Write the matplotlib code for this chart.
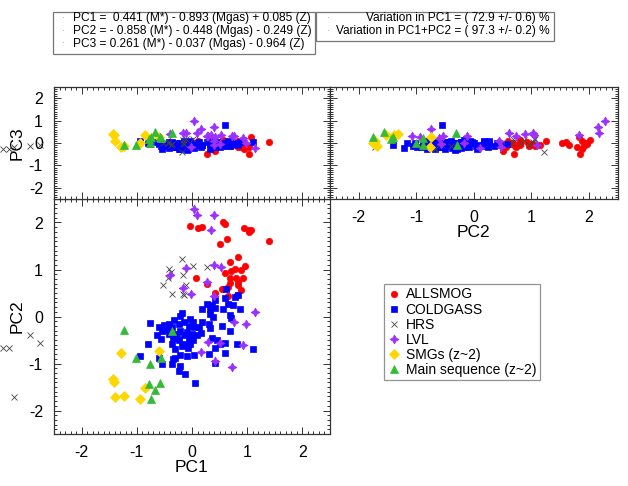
import matplotlib
matplotlib.use("Agg")
import matplotlib.pyplot as plt
from matplotlib.patches import Rectangle
from matplotlib.ticker import MultipleLocator
import numpy as np

plt.rcParams['font.family'] = ['Liberation Sans', 'DejaVu Sans']
plt.rcParams['axes.unicode_minus'] = False

# ---------------- data: (PC1, PC2, PC3) ----------------
allsmog = [
    (-0.04, 1.93, -0.01), (0.11, 1.88, 0.09), (0.19, 1.91, -0.12), (0.56, 2.02, 0.12),
    (0.59, 1.97, -0.06), (0.94, 1.88, -0.27), (1.03, 1.84, -0.49), (1.04, 1.80, -0.20),
    (1.07, 1.83, 0.28), (1.40, 1.61, 0.03), (0.63, 1.65, -0.10), (0.51, 1.54, 0.00),
    (0.84, 1.26, 0.09), (0.68, 1.15, -0.10), (0.78, 1.02, -0.05), (0.96, 1.07, -0.15),
    (0.88, 0.99, -0.06), (0.71, 0.96, -0.12), (0.59, 0.92, 0.05), (0.07, 0.81, -0.05),
    (0.92, 0.81, 0.13), (0.80, 0.81, -0.10), (0.68, 0.81, 0.00), (0.83, 0.73, -0.20),
    (0.69, 0.71, -0.15), (0.27, 0.69, -0.49), (0.84, 0.68, 0.00), (0.66, 0.62, -0.05),
    (0.89, 0.56, -0.18), (0.55, 0.59, 0.10), (0.42, 0.51, -0.37), (0.81, 0.45, -0.08),
    (0.65, 0.43, 0.05),
]

coldgass = [
    (0.62, 0.58, -0.05), (0.60, 0.40, 0.02), (0.83, 0.45, -0.10), (0.42, 0.35, -0.15),
    (0.28, 0.27, 0.05), (0.36, 0.25, -0.20), (0.18, 0.16, -0.08), (0.33, 0.17, 0.10),
    (0.42, 0.18, -0.02), (0.57, 0.17, -0.12), (0.66, 0.27, 0.08), (0.75, 0.24, -0.05),
    (0.87, 0.17, 0.03), (0.33, 0.06, -0.25), (0.38, -0.01, 0.00), (0.69, 0.04, -0.15),
    (0.71, -0.04, 0.05), (-0.18, 0.08, -0.10), (-0.22, 0.01, 0.02), (-0.76, -0.13, -0.05),
    (-0.33, -0.08, -0.18), (-0.42, -0.16, 0.05), (-0.51, -0.18, -0.12), (-0.59, -0.23, -0.02),
    (-0.54, -0.30, -0.28), (-0.45, -0.28, -0.08), (-0.36, -0.23, 0.06), (-0.24, -0.16, -0.20),
    (-0.15, -0.11, -0.04), (-0.03, -0.06, 0.08), (0.02, -0.11, -0.15), (-0.06, -0.21, -0.02),
    (0.03, -0.23, -0.22), (0.12, -0.23, 0.04), (0.18, -0.11, -0.10), (0.30, -0.17, 0.12),
    (0.32, -0.25, -0.06), (0.16, -0.35, -0.18), (0.09, -0.40, 0.02), (0.00, -0.38, -0.12),
    (-0.09, -0.33, -0.30), (-0.21, -0.31, 0.00), (-0.27, -0.38, -0.15), (-0.15, -0.40, 0.08),
    (-0.34, -0.45, -0.05), (-0.41, -0.38, -0.22), (-0.63, -0.40, 0.04), (-0.56, -0.47, -0.14),
    (-0.24, -0.51, -0.25), (-0.06, -0.45, 0.05), (0.02, -0.49, -0.08), (-0.12, -0.58, -0.18),
    (-0.03, -0.59, 0.02), (-0.18, -0.63, -0.10), (-0.08, -0.67, -0.28), (-0.30, -0.70, -0.04),
    (-0.36, -0.59, -0.20), (-0.80, -0.58, 0.00), (0.36, -0.45, -0.12), (0.45, -0.49, 0.06),
    (0.54, -0.21, -0.08), (0.68, -0.30, -0.02), (0.50, -0.58, -0.18), (0.60, -0.56, 0.80),
    (0.42, -0.68, -0.05), (0.30, -0.79, 0.10), (0.60, -0.77, -0.12), (0.81, -0.58, 0.00),
    (1.10, -0.70, 0.05), (0.03, -0.82, -0.15), (-0.09, -0.84, 0.04), (-0.22, -0.82, -0.25),
    (-0.30, -0.88, -0.06), (-0.34, -0.91, -0.16), (-0.94, -0.84, 0.09), (-0.54, -1.02, -0.10),
    (-0.36, -1.02, 0.02), (-0.21, -1.05, -0.14), (-0.24, -1.16, -0.02), (-0.12, -1.22, -0.21),
    (0.06, -1.41, -0.08), (0.42, -0.98, -0.18), (-0.59, -0.89, -0.06), (0.77, 0.42, -0.04),
]

hrs = [
    (-0.18, 1.22, -0.39), (-0.41, 1.02, 0.05), (-0.38, 0.95, -0.10), (-0.44, 0.82, 0.00),
    (-0.16, 0.88, 0.15), (0.02, 1.07, 0.16), (0.28, 1.05, 0.16), (-0.10, 0.68, 0.16),
    (-0.53, 0.66, 0.00), (-0.36, 0.48, -0.05), (-0.17, 0.47, 0.01), (-0.15, 0.45, -0.05),
    (-3.42, -0.68, -0.27), (-3.32, -0.67, -0.25), (-2.94, -0.40, -0.13), (-2.75, -0.56, -0.10),
    (-3.23, -1.71, -0.20),
]

lvl = [
    (0.03, 2.28, 1.00), (0.09, 2.17, 0.46), (0.39, 2.15, 0.73), (0.34, 1.83, 0.36),
    (-0.11, 1.03, 0.43), (0.40, 1.09, -0.09), (0.53, 1.05, 0.36), (-0.39, 0.89, 0.40),
    (0.28, 0.74, 0.31), (-0.16, 0.61, 0.45), (-0.02, 0.48, -0.16), (0.39, 0.43, 0.10),
    (1.15, 0.10, -0.21), (0.76, -0.12, 0.31), (0.98, -0.17, 0.00), (0.29, -0.54, 0.30),
    (0.50, -0.57, -0.05), (0.92, -0.60, 0.21), (0.16, -0.75, 0.64), (0.42, -0.94, 0.25),
    (0.73, -1.07, 0.31),
]

smgs = [
    (-1.29, -0.77, -0.19), (-0.60, -0.74, 0.28), (-1.44, -1.32, 0.39), (-1.41, -1.39, 0.36),
    (-1.39, -1.71, 0.09), (-1.23, -1.69, -0.15), (-0.86, -1.52, 0.36), (-0.94, -1.76, 0.01),
]

main_seq = [
    (-1.24, -0.29, -0.07), (-1.01, -0.88, -0.09), (-0.76, -1.00, 0.01), (-0.36, -0.31, 0.43),
    (-0.56, -0.88, 0.21), (-0.77, -1.44, 0.16), (-0.58, -1.41, 0.28), (-0.67, -1.57, 0.51),
    (-0.74, -1.76, 0.25),
]

labels = ['ALLSMOG', 'COLDGASS', 'HRS', 'LVL', 'SMGs (z~2)', 'Main sequence (z~2)']

eq_lines = ['PC1 =  0.441 (M*) - 0.893 (Mgas) + 0.085 (Z)',
            'PC2 = - 0.858 (M*) - 0.448 (Mgas) - 0.249 (Z)',
            'PC3 = 0.261 (M*) - 0.037 (Mgas) - 0.964 (Z)']
var_lines = ['Variation in PC1 = ( 72.9 +/- 0.6) %',
             'Variation in PC1+PC2 = ( 97.3 +/- 0.2) %']

# ---------------- styles ----------------
styles = [
    dict(marker='o', color='#ff0000', ms=4.6, mec='#ff0000', mew=0.5),
    dict(marker='s', color='#0000ff', ms=4.2, mec='#0000ff', mew=0.5),
    dict(marker='x', color='#444444', ms=4.2, mew=0.6),
    dict(marker=(4, 1, 0), color='#9b30ff', ms=6.5, mec='#9b30ff', mew=0.5),
    dict(marker='D', color='#ffd700', ms=4.6, mec='#ffd700', mew=0.5),
    dict(marker='^', color='#33bb33', ms=5.6, mec='#33bb33', mew=0.5),
]
series = [allsmog, coldgass, hrs, lvl, smgs, main_seq]
draw_order = [1, 0, 2, 3, 4, 5]

W, H = 628, 486
fig = plt.figure(figsize=(W / 100, H / 100), dpi=100)

def fx(px):
    return px / W

def fy(py):
    return 1 - py / H

ax_bl = fig.add_axes([fx(54), fy(434), fx(330) - fx(54), fy(199) - fy(434)])
ax_tl = fig.add_axes([fx(54), fy(199), fx(330) - fx(54), fy(87) - fy(199)])
ax_tr = fig.add_axes([fx(330), fy(199), fx(617.7) - fx(330), fy(87) - fy(199)])

for ax in (ax_bl, ax_tl, ax_tr):
    ax.set_xlim(-2.5, 2.5)
    ax.set_ylim(-2.5, 2.5)
    ax.xaxis.set_major_locator(MultipleLocator(1))
    ax.yaxis.set_major_locator(MultipleLocator(1))
    ax.xaxis.set_minor_locator(MultipleLocator(0.1))
    ax.yaxis.set_minor_locator(MultipleLocator(0.1))
    ax.tick_params(which='both', direction='in', top=True, right=True,
                   color='#333333', width=0.7, labelsize=11.5, pad=8)
    ax.tick_params(which='major', length=5)
    ax.tick_params(which='minor', length=2.5)
    for s in ax.spines.values():
        s.set_color('#333333')
        s.set_linewidth(0.9)

ax_tl.tick_params(labelbottom=False)
ax_tr.tick_params(labelleft=False)

for i in draw_order:
    d = np.array(series[i])
    st = styles[i]
    for ax, (a, b) in ((ax_bl, (0, 1)), (ax_tl, (0, 2)), (ax_tr, (1, 2))):
        ax.plot(d[:, a], d[:, b], ls='none', clip_on=False, zorder=3 + i * 0.01, **st)

handles = []
for i in range(6):
    h, = ax_bl.plot([], [], ls='none', **styles[i])
    handles.append(h)

ax_bl.set_xlabel('PC1', fontsize=12.5, labelpad=0)
ax_bl.set_ylabel('PC2', fontsize=12.5, labelpad=3)
ax_tl.set_ylabel('PC3', fontsize=12.5, labelpad=3)
ax_tr.set_xlabel('PC2', fontsize=12.5, labelpad=0)

leg = fig.legend(handles, labels, loc='upper left', bbox_to_anchor=(fx(384), fy(284)),
                 fontsize=10.0, frameon=True, fancybox=False, edgecolor='#777777',
                 borderpad=0.25, labelspacing=0.08, handlelength=0.9, handletextpad=0.4,
                 borderaxespad=0)
leg.get_frame().set_linewidth(0.9)

# equation boxes
fig.patches.append(Rectangle((fx(53), fy(54)), fx(315) - fx(53), fy(12) - fy(54),
                             transform=fig.transFigure, fill=False, ec='#777777', lw=0.9))
fig.patches.append(Rectangle((fx(316), fy(41)), fx(554) - fx(316), fy(12) - fy(41),
                             transform=fig.transFigure, fill=False, ec='#777777', lw=0.9))
for k, t in enumerate(eq_lines):
    yy = fy(18.5 + 12.8 * k)
    fig.text(fx(63), yy, '\u00b7', fontsize=6, color='#999999', ha='center', va='center')
    fig.text(fx(73), yy, t, fontsize=8.6, ha='left', va='center')
for k, t in enumerate(var_lines):
    yy = fy(18.5 + 12.8 * k)
    fig.text(fx(328), yy, '\u00b7', fontsize=6, color='#999999', ha='center', va='center')
    fig.text(fx(550), yy, t, fontsize=8.6, ha='right', va='center')

fig.savefig('out.png', dpi=100)
